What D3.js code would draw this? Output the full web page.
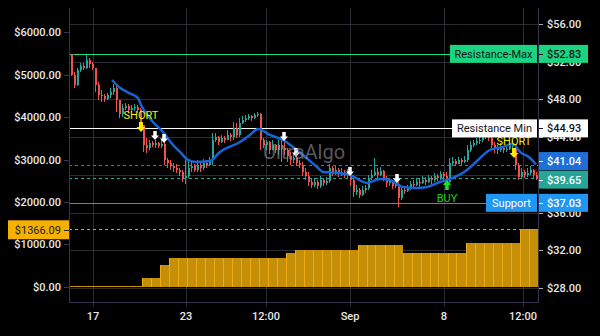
<!DOCTYPE html>
<html><head><meta charset="utf-8">
<script src="https://cdn.jsdelivr.net/npm/d3@7"></script>
<style>html,body{margin:0;padding:0;background:#000;}svg{display:block;}</style>
</head><body>
<script>
// ---------- DATA ----------
const opens = [52.82,50.59,49.53,51.12,51.55,51.33,52.18,51.76,51.33,49.53,
48.47,48.37,48.05,48.47,48.79,49.21,47.94,46.46,47.09,47.31,
46.88,47.09,47.20,46.88,45.29,43.17,42.85,43.38,43.17,43.38,
43.06,43.27,41.58,41.26,40.94,40.73,40.52,40.31,39.67,39.88,
40.73,40.94,40.52,41.05,40.73,41.26,41.05,41.58,43.70,44.02,
43.49,43.91,43.70,44.23,44.02,44.97,44.23,45.50,45.82,46.03,
46.24,46.03,46.35,46.46,43.70,43.17,43.49,42.64,43.17,42.64,
43.17,42.85,42.64,42.00,41.58,41.79,41.26,41.05,40.31,39.88,
39.25,38.93,39.25,38.82,39.46,39.14,39.35,40.73,40.31,40.52,
40.09,40.31,39.99,40.20,39.46,38.19,38.40,37.87,38.40,38.61,
39.67,39.99,40.31,39.99,40.41,39.67,39.14,39.35,38.82,39.03,
37.55,38.40,38.29,38.61,39.03,38.93,39.25,39.14,39.46,39.25,
39.67,39.46,39.88,39.67,40.09,39.88,39.25,41.26,41.47,41.15,
41.58,41.37,41.58,42.64,43.17,43.38,43.59,43.70,44.34,44.12,
43.91,43.17,42.85,42.64,42.85,42.64,42.75,43.06,43.27,41.05,
39.78,40.31,39.99,40.20,40.52,39.99];
const closes = [50.59,49.53,51.12,51.55,51.33,52.18,51.76,51.33,49.53,48.47,
48.37,48.05,48.47,48.79,49.21,47.94,46.46,47.09,47.31,46.88,
47.09,47.20,46.88,45.29,43.17,42.85,43.38,43.17,43.38,43.06,
43.27,41.58,41.26,40.94,40.73,40.52,40.31,39.67,39.88,40.73,
40.94,40.52,41.05,40.73,41.26,41.05,41.58,43.70,44.02,43.49,
43.91,43.70,44.23,44.02,44.97,44.23,45.50,45.82,46.03,46.24,
46.03,46.35,46.46,43.70,43.17,43.49,42.64,43.17,42.64,43.17,
42.85,42.64,42.00,41.58,41.79,41.26,41.05,40.31,39.88,39.25,
38.93,39.25,38.82,39.46,39.14,39.35,40.73,40.31,40.52,40.09,
40.31,39.99,40.20,39.46,38.19,38.40,37.87,38.40,38.61,39.67,
39.99,40.31,39.99,40.41,39.67,39.14,39.35,38.82,39.03,37.55,
38.40,38.29,38.61,39.03,38.93,39.25,39.14,39.46,39.25,39.67,
39.46,39.88,39.67,40.09,39.88,39.25,41.26,41.47,41.15,41.58,
41.37,41.58,42.64,43.17,43.38,43.59,43.70,44.34,44.12,43.91,
43.17,42.85,42.64,42.85,42.64,42.75,43.06,43.27,41.05,39.78,
40.31,39.99,40.20,40.52,39.99,39.65];
const highs = [52.82,50.91,51.33,51.86,51.86,52.71,52.40,51.97,51.33,49.85,
49.00,48.58,48.68,49.21,49.64,49.43,47.94,47.52,47.62,47.52,
47.41,47.52,47.41,47.09,45.29,43.91,43.70,43.59,43.70,43.49,
43.70,43.49,41.79,41.58,41.26,41.15,40.73,40.52,41.58,41.58,
41.37,41.15,41.58,41.37,41.68,41.58,41.90,44.44,44.44,44.12,
44.23,44.12,44.76,44.44,45.61,45.50,46.03,46.24,46.35,46.46,
46.35,46.56,46.67,46.56,43.91,43.70,43.59,43.70,43.27,43.70,
43.91,44.55,42.85,42.43,42.32,42.11,41.58,41.37,40.73,40.31,
39.67,39.67,39.46,39.88,39.67,39.78,41.15,40.94,40.94,40.73,
40.73,40.52,40.62,40.41,39.67,38.93,38.61,38.82,38.93,39.99,
40.52,41.79,40.73,40.84,40.52,39.88,39.67,39.46,39.46,39.25,
38.82,38.71,38.93,39.35,39.46,39.67,39.56,39.88,39.78,39.99,
39.88,40.20,40.09,40.41,40.31,40.31,41.79,41.90,41.68,41.90,
41.79,42.00,43.17,43.59,43.70,43.91,44.02,44.65,44.65,44.44,
44.12,43.49,43.17,43.38,43.06,43.17,43.38,43.70,43.27,41.26,
40.73,40.52,40.73,40.94,40.62,40.31];
const lows = [50.49,49.21,49.43,50.91,51.12,51.23,51.33,51.12,48.79,47.94,
47.73,47.73,47.94,48.15,48.47,46.67,46.03,46.14,46.88,46.56,
46.67,46.77,46.56,44.76,42.43,42.32,42.64,42.96,42.85,42.85,
42.85,41.05,40.73,40.52,40.31,40.20,39.88,39.25,39.03,39.67,
40.31,40.31,40.31,40.31,40.52,40.73,40.94,41.05,43.49,43.17,
43.38,43.38,43.70,43.59,43.70,43.91,44.02,45.40,45.61,45.82,
45.72,45.93,46.14,42.64,42.85,42.64,42.22,42.64,42.32,42.11,
41.37,42.11,41.37,41.05,41.26,40.94,40.73,39.88,39.46,38.82,
38.61,38.71,38.50,38.61,38.82,38.93,39.14,39.88,39.99,39.78,
39.88,39.67,39.67,38.82,37.66,37.87,37.55,37.76,38.08,38.40,
39.46,39.88,39.67,39.88,39.35,38.71,38.82,38.50,38.61,36.60,
37.34,37.97,38.19,38.40,38.61,38.82,38.71,39.03,38.93,39.14,
39.03,39.25,39.35,39.46,39.46,38.61,39.14,40.94,40.94,41.15,
41.05,41.26,41.37,42.43,42.96,43.17,43.27,43.49,43.81,43.59,
42.64,42.32,42.22,42.43,42.32,42.43,42.64,42.85,40.52,39.46,
39.67,39.67,39.78,39.99,39.67,39.46];

// moving average (candle index, value)
const maIndex = [13.67,16,19.33,22.33,23.33,27.33,30.67,34,36.67,39,41.67,46.33,49.67,56.33,59.67,62.33,66.33,70.67,74,77.33,82,84,88.67,93,98.67,103,106.33,110.67,115.33,118.67,123,125.33,132,135.67,139.67,144,147.33,149.67,153,155];
const maValue = [50.06,49.32,48.68,48.15,47.41,45.61,44.55,43.17,42.32,41.58,41.37,41.47,42.43,43.49,44.23,44.87,44.23,43.70,42.96,42.11,40.84,40.31,40.20,39.99,39.14,39.56,39.46,38.71,38.61,38.71,39.24,39.46,40.52,41.58,42.64,42.96,43.27,42.43,41.79,41.10];

// cumulative bars (left axis, one per 3 candles)
const barValues = [0,0,0,0,0,0,0,0,212,212,512,670,670,670,670,670,670,670,670,670,670,670,670,670,795,866,866,866,866,866,866,866,983,983,983,983,983,788,788,788,788,788,788,788,1024,1024,1024,1024,1024,1024,1366.09,1366.09];

// signals
const sigIndex = [23.33,28,31,71,75,93,108.67,125.33,147.67];
const sigType  = ["SHORT","exit","exit","exit","exit","exit","exit","BUY","SHORT"];
const sigPrice = [44.55,43.70,43.38,43.59,41.90,39.88,39.14,39.46,41.79];

// levels
const levelNames  = ["Resistance-Max","Resistance Min","","","Support"];
const levelValues = [52.83,44.93,41.04,39.65,37.03];
const cumLevel = 1366.09;

// axes
const rightTicks = [28,32,36,40,44,48,52,56];
const rightTickLabels = ["$28.00","$32.00","$36.00","","$44.00","$48.00","$52.00","$56.00"];
const leftTicks = [0,1000,2000,3000,4000,5000,6000];
const xTickIndex = [7.33,38.33,65,93,124.33,150.67];
const xTickLabels = ["17","23","12:00","Sep","8","12:00"];

// ---------- DRAW ----------
const W=600,H=336;
const FONT="Roboto, 'Liberation Sans', Arial, sans-serif";
const L=69, R=538, T=8, B=302;
const x = d3.scaleLinear().domain([0,155]).range([71,536]);
const yR = d3.scaleLinear().domain([28,56]).range([288,24]);
const yL = d3.scaleLinear().domain([0,6000]).range([286.7,32.3]);

const svg = d3.select("body").append("svg").attr("width",W).attr("height",H)
  .style("background","#000").style("font-family",FONT);
svg.append("rect").attr("width",W).attr("height",H).attr("fill","#000");

const grid = svg.append("g").attr("shape-rendering","crispEdges");
grid.selectAll(".hg").data(rightTicks).join("line")
  .attr("x1",L).attr("x2",R).attr("y1",d=>Math.round(yR(d))+0.5).attr("y2",d=>Math.round(yR(d))+0.5)
  .attr("stroke","#2c2c33");
grid.selectAll(".vg").data(xTickIndex).join("line")
  .attr("x1",d=>Math.round(x(d))+0.5).attr("x2",d=>Math.round(x(d))+0.5).attr("y1",T).attr("y2",B+5)
  .attr("stroke","#2c2c33");

// orange bars
const bars = svg.append("g").attr("shape-rendering","crispEdges");
barValues.forEach((v,k)=>{
  const x0 = x(k*3-0.5), x1 = x(k*3+2.5);
  const y0 = yL(0), y1 = Math.min(yL(v), y0-1);
  bars.append("rect").attr("x",x0).attr("y",y1).attr("width",x1-x0).attr("height",y0-y1)
    .attr("fill","#c68f08");
  bars.append("line").attr("x1",Math.round(x0)+0.5).attr("x2",Math.round(x0)+0.5)
    .attr("y1",y1).attr("y2",y0).attr("stroke","#eeaa10").attr("stroke-width",1);
});

// level lines
const lv = svg.append("g").attr("shape-rendering","crispEdges");
const levelColors = ["#19e08a","#ffffff","#2a7ae2","#26a69a","#2196f3"];
const levelDash = [null,null,"3,3","3,3",null];
const levelEnd = [450,452,R,R,486];
levelValues.forEach((v,i)=>{
  const yy = Math.round(yR(v))+0.5;
  lv.append("line").attr("x1",L).attr("x2",levelEnd[i]).attr("y1",yy).attr("y2",yy)
    .attr("stroke",levelColors[i]).attr("stroke-dasharray",levelDash[i]);
});
lv.append("line").attr("x1",L).attr("x2",R).attr("y1",Math.round(yL(cumLevel))+0.5).attr("y2",Math.round(yL(cumLevel))+0.5)
  .attr("stroke","#e0a800").attr("stroke-dasharray","3,3");

// candles
const cg = svg.append("g").attr("shape-rendering","crispEdges");
closes.forEach((c,i)=>{
  const o=opens[i], up=c>=o, col= up?"#26a69a":"#ef5350";
  const cx = Math.round(x(i));
  cg.append("line").attr("x1",cx+0.5).attr("x2",cx+0.5).attr("y1",yR(highs[i])).attr("y2",yR(lows[i])).attr("stroke",col);
  const yt = yR(Math.max(o,c)), yb = yR(Math.min(o,c));
  cg.append("rect").attr("x",cx-0.5).attr("y",yt).attr("width",2).attr("height",Math.max(1,yb-yt)).attr("fill",col);
});

// MA line
const maPts = maIndex.map((d,i)=>[x(d),yR(maValue[i])]);
svg.append("path").attr("d",d3.line().curve(d3.curveMonotoneX)(maPts))
  .attr("fill","none").attr("stroke","#1565d8").attr("stroke-width",2.5).attr("stroke-linejoin","round");

// signals
function arrowPath(w,h,dir){ // tip at 0,0; dir 1 = down arrow (body above tip)
  const hw=w/2, sw=w*0.22, hh=h*0.5;
  const p=[[0,0],[-hw,-hh],[-sw,-hh],[-sw,-h],[sw,-h],[sw,-hh],[hw,-hh]];
  return "M"+p.map(q=>q[0]+","+(q[1]*dir)).join("L")+"Z";
}
const sg = svg.append("g");
sigIndex.forEach((si,i)=>{
  const sx = x(si), sy = yR(sigPrice[i]), t = sigType[i];
  if(t==="SHORT"){
    sg.append("path").attr("d",arrowPath(9,10,1)).attr("transform",`translate(${sx},${sy})`).attr("fill","#ffea00");
    sg.append("text").attr("x",sx).attr("y",sy-13).attr("text-anchor","middle").attr("font-size",11)
      .attr("fill","#f0f000").text("SHORT");
  } else if(t==="BUY"){
    sg.append("path").attr("d",arrowPath(8,10,-1)).attr("transform",`translate(${sx},${sy})`).attr("fill","#19e619");
    sg.append("text").attr("x",sx).attr("y",sy+22).attr("text-anchor","middle").attr("font-size",11)
      .attr("fill","#1ed21e").text("BUY");
  } else {
    sg.append("path").attr("d",arrowPath(8,9,1)).attr("transform",`translate(${sx},${sy})`).attr("fill","#ffffff");
  }
});

// watermark
svg.append("text").attr("x",304).attr("y",159).attr("text-anchor","middle").attr("font-size",20)
  .attr("fill","rgba(150,150,150,0.6)").text("UltraAlgo");

// right axis labels
const ax = svg.append("g");
rightTicks.forEach((v,i)=>{
  const yy=Math.round(yR(v))+0.5;
  ax.append("line").attr("x1",539).attr("x2",543).attr("y1",yy).attr("y2",yy).attr("stroke","#aaa").attr("shape-rendering","crispEdges");
  if(rightTickLabels[i]) ax.append("text").attr("x",547).attr("y",yy).attr("dy","0.36em").attr("font-size",11).attr("font-weight",500)
    .attr("fill","#e8e8e8").text(rightTickLabels[i]);
});
// left axis labels
leftTicks.forEach(v=>{
  const yy=Math.round(yL(v))+0.5;
  ax.append("line").attr("x1",64).attr("x2",69).attr("y1",yy).attr("y2",yy).attr("stroke","#34365a").attr("shape-rendering","crispEdges");
  ax.append("text").attr("x",61).attr("y",yy).attr("dy","0.36em").attr("text-anchor","end").attr("font-size",11).attr("font-weight",500)
    .attr("fill","#e8e8e8").text("$"+v.toFixed(2));
});
// bottom labels
xTickIndex.forEach((d,i)=>{
  ax.append("text").attr("x",x(d)).attr("y",316).attr("dy","0.36em").attr("text-anchor","middle").attr("font-size",11).attr("font-weight",500)
    .attr("fill","#e8e8e8").text(xTickLabels[i]);
});

// label boxes
const boxFill = ["#1bd47f","#ffffff","#1e6fd9","#26a69a","#2196f3"];
const boxText = ["#14141a","#14141a","#ffffff","#ffffff","#ffffff"];
const boxCenter = [yR(52.83), yR(44.93), yR(41.04)-4, yR(39.65)+1.5, yR(37.03)];
const nameX = [450,452,0,0,486];
const lb = svg.append("g");
levelValues.forEach((v,i)=>{
  const cy = boxCenter[i];
  lb.append("rect").attr("x",539).attr("y",cy-9).attr("width",49).attr("height",18).attr("fill",boxFill[i]);
  lb.append("line").attr("x1",539).attr("x2",543).attr("y1",Math.round(cy)+0.5).attr("y2",Math.round(cy)+0.5)
    .attr("stroke",boxText[i]).attr("shape-rendering","crispEdges");
  lb.append("text").attr("x",547).attr("y",cy).attr("dy","0.36em").attr("font-size",11).attr("font-weight",500)
    .attr("fill",boxText[i]).text("$"+v.toFixed(2));
  if(levelNames[i]){
    lb.append("rect").attr("x",nameX[i]).attr("y",cy-9).attr("width",537-nameX[i]).attr("height",18).attr("fill",boxFill[i]);
    lb.append("text").attr("x",(nameX[i]+537)/2).attr("y",cy).attr("dy","0.36em").attr("text-anchor","middle")
      .attr("font-size",11).attr("fill",boxText[i]).text(levelNames[i]);
  }
});
// cumulative label
const cy2 = yL(cumLevel)+1;
lb.append("rect").attr("x",8).attr("y",cy2-9.5).attr("width",61).attr("height",19).attr("fill","#f5b000");
lb.append("line").attr("x1",64).attr("x2",69).attr("y1",Math.round(cy2)+0.5).attr("y2",Math.round(cy2)+0.5)
  .attr("stroke","#222").attr("shape-rendering","crispEdges");
lb.append("text").attr("x",61).attr("y",cy2).attr("dy","0.36em").attr("text-anchor","end").attr("font-size",11)
  .attr("fill","#222").text("$"+cumLevel.toFixed(2));

// frame
const fr = svg.append("g").attr("shape-rendering","crispEdges").attr("stroke","#33334f");
fr.append("line").attr("x1",L+0.5).attr("x2",L+0.5).attr("y1",T).attr("y2",B);
fr.append("line").attr("x1",R+0.5).attr("x2",R+0.5).attr("y1",T).attr("y2",B+0.5);
fr.append("line").attr("x1",L).attr("x2",R).attr("y1",B+0.5).attr("y2",B+0.5);
</script>
</body></html>
